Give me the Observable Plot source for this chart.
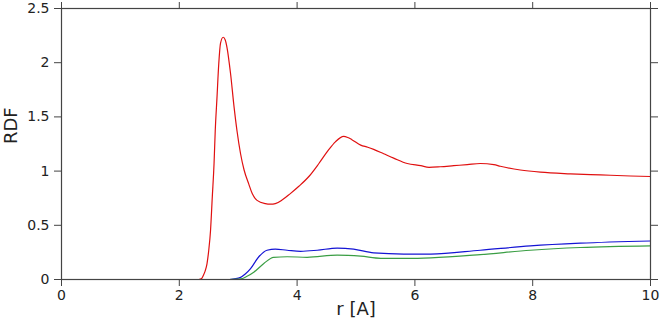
<!DOCTYPE html>
<html>
<head>
<meta charset="utf-8">
<script src="https://cdn.jsdelivr.net/npm/d3@7"></script>
<script src="https://cdn.jsdelivr.net/npm/@observablehq/plot@0.6"></script>
<style>
  html, body { margin: 0; padding: 0; background: #fff; }
</style>
</head>
<body>
<div id="chart"></div>
<script>
const xTicks = [0, 2, 4, 6, 8, 10];
const yTicks = [0, 0.5, 1, 1.5, 2, 2.5];
const xLabel = "r [A]";
const yLabel = "RDF";

const redR = [2.33, 2.38, 2.41, 2.44, 2.47, 2.50, 2.53, 2.56, 2.59, 2.61, 2.64, 2.67, 2.70, 2.745, 2.78, 2.81, 2.87, 2.93, 2.98, 3.04, 3.10, 3.18, 3.24, 3.32, 3.46, 3.55, 3.63, 3.75, 3.88, 4.03, 4.20, 4.37, 4.54, 4.65, 4.79, 4.86, 4.93, 5.08, 5.20, 5.30, 5.47, 5.64, 5.87, 6.10, 6.24, 6.43, 6.66, 6.89, 7.11, 7.34, 7.45, 7.79, 8.13, 8.64, 9.15, 9.66, 10.0];
const redG = [0, 0.01, 0.04, 0.08, 0.145, 0.27, 0.45, 0.76, 1.07, 1.37, 1.68, 1.99, 2.18, 2.235, 2.21, 2.14, 1.90, 1.59, 1.37, 1.16, 1.01, 0.88, 0.79, 0.73, 0.70, 0.695, 0.70, 0.735, 0.79, 0.86, 0.95, 1.07, 1.20, 1.27, 1.32, 1.31, 1.29, 1.24, 1.22, 1.20, 1.16, 1.12, 1.07, 1.05, 1.035, 1.04, 1.05, 1.06, 1.07, 1.06, 1.045, 1.01, 0.99, 0.975, 0.965, 0.955, 0.95];

const blueR = [2.85, 3.04, 3.12, 3.21, 3.35, 3.49, 3.63, 3.83, 4.06, 4.34, 4.68, 4.96, 5.30, 5.81, 6.27, 7.11, 7.96, 8.81, 10.0];
const blueG = [0, 0.02, 0.05, 0.10, 0.21, 0.27, 0.28, 0.27, 0.26, 0.27, 0.29, 0.28, 0.245, 0.235, 0.235, 0.27, 0.31, 0.335, 0.355];

const greenR = [2.85, 3.04, 3.15, 3.27, 3.44, 3.60, 3.83, 4.17, 4.68, 5.08, 5.42, 5.87, 6.27, 7.11, 7.96, 8.81, 10.0];
const greenG = [0, 0.005, 0.03, 0.07, 0.15, 0.205, 0.21, 0.205, 0.225, 0.215, 0.195, 0.195, 0.20, 0.23, 0.27, 0.295, 0.31];

const series = [
  {name: "red", r: redR, g: redG, color: "#e01010"},
  {name: "blue", r: blueR, g: blueG, color: "#1414d4"},
  {name: "green", r: greenR, g: greenG, color: "#3a9e44"}
];

const rows = series.flatMap(s => s.r.map((r, i) => ({series: s.name, r, g: s.g[i], color: s.color})));

const axisColor = "#444";
const textColor = "#222";

const chart = Plot.plot({
  width: 660,
  height: 322,
  marginLeft: 61,
  marginRight: 10,
  marginTop: 8,
  marginBottom: 43,
  style: {fontFamily: "DejaVu Sans", fontSize: "14px", color: textColor, background: "#fff"},
  x: {domain: [0, 10]},
  y: {domain: [0, 2.5]},
  marks: [
    Plot.line(rows, {x: "r", y: "g", z: "series", stroke: "color", strokeWidth: 1.2, curve: "monotone-x"}),
    Plot.frame({stroke: axisColor, strokeWidth: 1.2}),
    Plot.axisX({ticks: xTicks, tickSize: 7, tickPadding: 4, tickFormat: d => String(d), label: null, stroke: axisColor, fill: textColor, fontSize: 14}),
    Plot.axisX({anchor: "top", ticks: xTicks, tickSize: 7, tickFormat: () => "", label: null, stroke: axisColor}),
    Plot.axisY({ticks: yTicks, tickSize: 7, tickPadding: 5, tickFormat: d => String(d), label: null, stroke: axisColor, fill: textColor, fontSize: 14}),
    Plot.axisY({anchor: "right", ticks: yTicks, tickSize: 7, tickFormat: () => "", label: null, stroke: axisColor}),
    Plot.text([xLabel], {frameAnchor: "bottom", dy: 30, lineAnchor: "middle", fontSize: 18, fill: textColor}),
    Plot.text([yLabel], {frameAnchor: "left", dx: -50, rotate: -90, lineAnchor: "middle", fontSize: 18, fill: textColor})
  ]
});
document.getElementById("chart").appendChild(chart);
</script>
</body>
</html>
